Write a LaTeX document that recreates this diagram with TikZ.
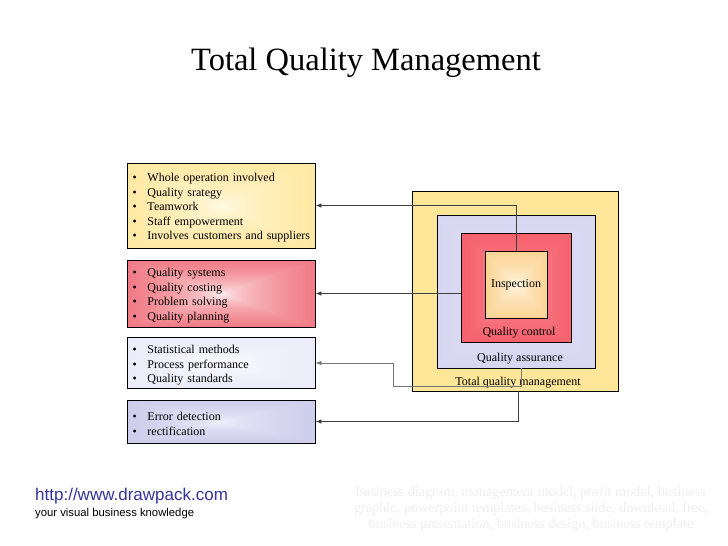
\documentclass[tikz,border=0pt]{standalone}
\usepackage{fontspec}
\setmainfont{Liberation Serif}
\newfontfamily\tqsans{Liberation Sans}
\usetikzlibrary{arrows.meta,positioning}

\definecolor{tqyellow}{RGB}{255,230,153}
\definecolor{tqline}{RGB}{64,64,64}
\definecolor{tqgrey}{RGB}{118,118,118}
\definecolor{tqblue}{RGB}{51,51,153}
\definecolor{tqmark}{RGB}{238,238,244}

% rectangular shading: centre colour #2-#4, change towards the edge #5-#7
\newcommand\rectshade[7]{%
  \pgfdeclarefunctionalshading{#1}{\pgfpoint{-50bp}{-50bp}}{\pgfpoint{50bp}{50bp}}{}{%
    abs exch abs 2 copy lt {exch} if pop 50 div sqrt
    dup dup #5 mul #2 add exch #6 mul #3 add 3 -1 roll #7 mul #4 add}}
\rectshade{boxyellow}{1}{0.99}{0.93}{0}{-0.11}{-0.41}
\rectshade{boxred}{1}{1}{1}{-0.08}{-0.74}{-0.68}
\rectshade{boxpale}{1}{1}{1}{-0.11}{-0.11}{-0.03}
\rectshade{boxlilac}{0.96}{0.96}{0.99}{-0.22}{-0.22}{-0.09}
\rectshade{sqlilac}{0.90}{0.90}{0.97}{-0.08}{-0.08}{-0.03}
\rectshade{sqred}{1}{0.66}{0.68}{-0.06}{-0.40}{-0.36}
\rectshade{sqinsp}{1}{1}{0.97}{-0.02}{-0.24}{-0.55}

\newcommand\tqb{\hspace*{3pt}\makebox[15pt][l]{\textbullet}}
\newcommand\tqfirst{\rule{0pt}{13pt}}

\tikzset{
  listbox/.style={draw, line width=0.8pt, shade, minimum width=188pt, text width=183pt,
    inner xsep=2.5pt, align=left, font=\fontsize{12}{14.5}\selectfont},
  square/.style={draw, line width=0.8pt, inner sep=0pt, font=\fontsize{12}{14}\selectfont},
  sqlabel/.style={inner sep=1pt, font=\fontsize{12}{14}\selectfont},
  link/.style={draw=tqline, line width=0.8pt, ->},
  >={Latex[length=6pt,width=4.5pt]}
}

\begin{document}
\begin{tikzpicture}[x=1pt,y=-1pt]
\useasboundingbox (0,0) rectangle (728,546);
\node (title) at (366,63) {\fontsize{32.5}{36}\selectfont Total Quality Management};

% lists
\node[listbox, shading=boxyellow, minimum height=85pt] (box1) at (221,205.5)
  {\tqfirst\tqb Whole operation involved\\ \tqb Quality srategy\\ \tqb Teamwork\\
   \tqb Staff empowerment\\ \tqb Involves customers and suppliers};
\node[listbox, shading=boxred, minimum height=67pt] (box2) at (221,293.5)
  {\tqfirst\tqb Quality systems\\ \tqb Quality costing\\ \tqb Problem solving\\ \tqb Quality planning};
\node[listbox, shading=boxpale, minimum height=48pt] (box3) at (221,363)
  {\tqfirst\tqb Statistical methods\\ \tqb Process performance\\ \tqb Quality standards};
\node[listbox, shading=boxlilac, minimum height=43pt] (box4) at (221,421.5)
  {\tqfirst\tqb Error detection\\ \tqb rectification};

% nested squares
\node[square, fill=tqyellow, minimum width=206pt, minimum height=200pt] (tqm) at (515,291) {};
\node[square, shade, shading=sqlilac, minimum width=158pt, minimum height=153pt] (qa) at (516,291.5) {};
\node[square, shade, shading=sqred, minimum width=110pt, minimum height=109pt] (qc) at (516,287.5) {};
\node[square, shade, shading=sqinsp, minimum width=62pt, minimum height=67pt] (insp) at (516,284.5) {Inspection};
\node[sqlabel, above=3pt of qc.south, xshift=3pt] (qclab) {Quality control};
\node[sqlabel, above=3pt of qa.south, xshift=4pt] (qalab) {Quality assurance};
\node[sqlabel, above=2pt of tqm.south, xshift=3pt] (tqmlab) {Total quality management};

% arrows back to the lists
\coordinate (bend) at (393,386);
\draw[link] (insp.north) |- (box1.east);
\draw[link] (qc.west |- box2.east) -- (box2.east);
\draw[link, draw=tqgrey] ([xshift=5pt]qa.south) |- (bend) |- (box3.east);
\draw[link] ([xshift=3pt]tqm.south) |- (box4.east);

% footer
\node[anchor=west, inner sep=0pt, text=tqblue, font=\tqsans\fontsize{17}{18}\selectfont] (url) at (35,496) {http://www.drawpack.com};
\node[anchor=west, inner sep=0pt, font=\tqsans\fontsize{11.3}{13}\selectfont] (slogan) at (35,514) {your visual business knowledge};
\node[align=center, text=tqmark, font=\fontsize{14.2}{16}\selectfont] (tags) at (531,509)
  {business diagram, management model, profit model, business\\
   graphic, powerpoint templates, business slide, download, free,\\
   business presentation, business design, business template};
\end{tikzpicture}
\end{document}
